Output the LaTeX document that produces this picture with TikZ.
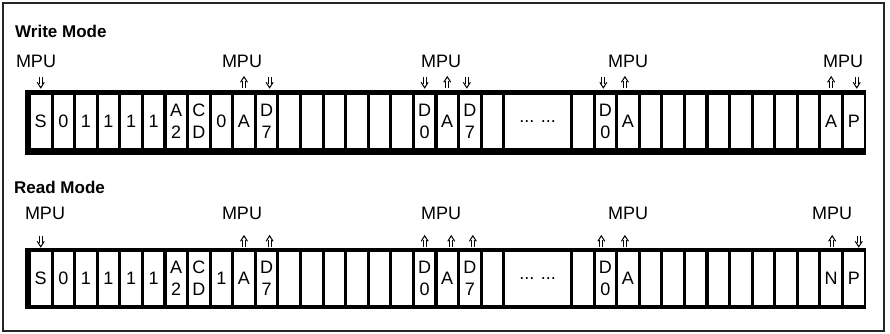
\documentclass[tikz,border=0pt]{standalone}
\usepackage{fontspec}
\setmainfont{Liberation Sans}
\usetikzlibrary{arrows.meta, positioning}

\def\paso{22.583}

% Flechas dobles (origen en la parte alta del simbolo)
\tikzset{
	abajo/.pic={
		\draw[line width=1pt] (-1.5,0) -- (-1.5,7) (1.5,0) -- (1.5,7);
		\draw[line width=1pt, line join=miter] (-3.5,5.5) -- (0,11) -- (3.5,5.5);
	},
	arriba/.pic={
		\draw[line width=1pt] (-1.5,11) -- (-1.5,4) (1.5,11) -- (1.5,4);
		\draw[line width=1pt, line join=miter] (-3.5,5.5) -- (0,0) -- (3.5,5.5);
	}
}

\begin{document}
\begin{tikzpicture}[x=1pt, y=-1pt,
	celda/.style={fill=white, inner sep=0pt, minimum width=19.5pt, minimum height=53pt,
		align=center, font=\fontsize{18}{22}\selectfont},
	mpu/.style={inner sep=0pt, font=\fontsize{18}{20}\selectfont},
	titulo/.style={anchor=west, inner sep=0pt, font=\fontsize{17}{20}\selectfont\bfseries}]

	\useasboundingbox (0,0) rectangle (890,334);

	% Marco
	\draw[line width=2pt, black!85] (3,3) rectangle (884,331);

	% Titulos
	\node[titulo] (tw) at (15,31) {Write Mode};
	\node[titulo] (tr) at (14,187) {Read Mode};

	% Barras negras
	\fill[black] (25,90) rectangle (866,155);
	\fill[black] (25,248) rectangle (866,309);

	% Celdas de escritura
	\foreach \i/\t in {0/S,1/0,2/1,3/1,4/1,5/1,6/{A\\2},7/{C\\D},8/0,9/A,10/{D\\7},
		11/{},12/{},13/{},14/{},15/{},16/{},17/{D\\0},18/A,19/{D\\7},20/{},
		24/{},25/{D\\0},26/A,27/{},28/{},29/{},30/{},31/{},32/{},33/{},34/{},35/A,36/P}
		\node[celda] (w\i) at (40.75+\i*\paso,121.5) {\t};
	\node[celda, minimum width=64.7pt] (wdots) at (537.6,121.5) {... ...};

	% Celdas de lectura
	\foreach \i/\t in {0/S,1/0,2/1,3/1,4/1,5/1,6/{A\\2},7/{C\\D},8/1,9/A,10/{D\\7},
		11/{},12/{},13/{},14/{},15/{},16/{},17/{D\\0},18/A,19/{D\\7},20/{},
		24/{},25/{D\\0},26/A,27/{},28/{},29/{},30/{},31/{},32/{},33/{},34/{},35/N,36/P}
		\node[celda] (r\i) at (40.75+\i*\paso,278.5) {\t};
	\node[celda, minimum width=64.7pt] (rdots) at (537.6,278.5) {... ...};

	% Etiquetas MPU
	\node[mpu] (wm1) at (36,61.5) {MPU};
	\node[mpu] (wm2) at (242,61.5) {MPU};
	\node[mpu] (wm3) at (441,61.5) {MPU};
	\node[mpu] (wm4) at (628,61.5) {MPU};
	\node[mpu] (wm5) at (843,61.5) {MPU};
	\node[mpu] (rm1) at (45,213) {MPU};
	\node[mpu] (rm2) at (242,213) {MPU};
	\node[mpu] (rm3) at (441,213) {MPU};
	\node[mpu] (rm4) at (628,213) {MPU};
	\node[mpu] (rm5) at (832,213) {MPU};

	% Flechas de escritura
	\foreach \c/\dx in {w0/0,w10/3,w17/0,w19/-3,w25/-2,w36/3}
		\pic at ([xshift=\dx pt, yshift=18pt]\c.north) {abajo};
	\foreach \c/\dx in {w9/0,w18/0,w26/-3,w35/0}
		\pic at ([xshift=\dx pt, yshift=18pt]\c.north) {arriba};

	% Flechas de lectura
	\foreach \c/\dx in {r0/0,r36/5}
		\pic at ([xshift=\dx pt, yshift=16pt]\c.north) {abajo};
	\foreach \c/\dx in {r9/0,r10/3,r17/0,r18/4,r19/3,r25/-4,r26/-3,r35/1}
		\pic at ([xshift=\dx pt, yshift=16pt]\c.north) {arriba};

\end{tikzpicture}
\end{document}
